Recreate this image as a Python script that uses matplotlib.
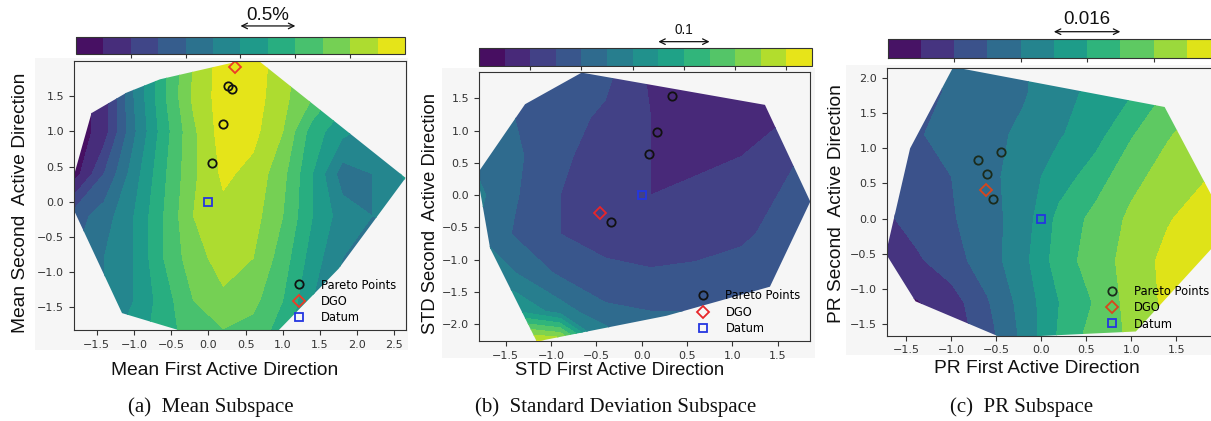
import numpy as np
import matplotlib
matplotlib.use("Agg")
import matplotlib.pyplot as plt
from matplotlib.patches import Polygon, Rectangle
from matplotlib.transforms import blended_transform_factory

# ---------------- data ----------------
# (a) Mean subspace: colour-band values read on a coarse grid
a_grid_x = [-1.8, -1.4, -1.0, -0.6, -0.2, 0.2, 0.6, 1.0, 1.4, 1.8, 2.2, 2.7]
a_grid_y = [-1.9, -1.4, -0.8, -0.2, 0.4, 1.0, 1.5, 2.0]
a_values = [
    [5.0, 5.5, 6.5, 7.5, 8.5, 8.8, 8.5, 7.5, 5.5, 4.0, 3.0, 3.0],
    [4.5, 5.0, 6.0, 7.5, 9.0, 9.8, 9.3, 8.0, 6.0, 4.5, 3.5, 3.0],
    [4.0, 5.0, 6.0, 8.0, 9.6, 10.4, 10.0, 8.5, 6.5, 5.0, 4.0, 4.0],
    [3.5, 4.5, 6.0, 8.0, 10.0, 10.7, 10.4, 9.0, 7.0, 5.5, 5.0, 5.5],
    [0.5, 3.0, 5.5, 7.8, 9.8, 11.2, 10.7, 9.3, 7.0, 4.5, 5.0, 6.3],
    [0.3, 1.5, 4.8, 7.5, 9.8, 11.5, 11.3, 10.0, 7.5, 6.3, 5.5, 6.0],
    [0.3, 1.5, 5.0, 7.8, 10.2, 11.5, 11.5, 10.3, 9.0, 7.5, 6.5, 6.0],
    [0.5, 2.0, 5.0, 7.8, 10.0, 11.5, 11.5, 10.5, 9.0, 8.0, 7.0, 6.5],
]
a_hull_x = [-1.81, -1.81, -1.57, -1.10, -0.65, 0.34, 0.62, 2.65, 1.75, 0.92, -0.31, -1.16]
a_hull_y = [-0.11, 0.36, 1.26, 1.55, 1.74, 1.98, 2.05, 0.34, -0.95, -1.85, -1.85, -1.58]
a_pareto_x = [0.27, 0.32, 0.20, 0.05]
a_pareto_y = [1.65, 1.60, 1.11, 0.55]
a_dgo = (0.36, 1.92)
a_datum = (0.0, 0.0)

# (b) STD subspace
b_grid_x = [-1.9, -1.4, -0.9, -0.4, 0.1, 0.6, 1.1, 1.5, 1.9]
b_grid_y = [-2.3, -1.8, -1.2, -0.6, 0.0, 0.6, 1.2, 1.9]
b_values = [
    [12.8, 12.8, 12.3, 6.0, 4.5, 4.5, 4.0, 4.0, 4.0],
    [8.0, 7.0, 5.5, 4.2, 4.0, 4.0, 4.0, 4.0, 4.0],
    [6.0, 5.0, 3.8, 3.3, 3.1, 3.2, 3.4, 3.7, 3.8],
    [5.2, 3.9, 3.0, 2.5, 2.3, 2.5, 2.8, 3.3, 3.5],
    [5.5, 4.1, 3.0, 2.3, 2.0, 2.1, 2.5, 3.0, 3.5],
    [5.0, 4.2, 3.2, 2.5, 2.0, 1.9, 2.0, 2.7, 3.2],
    [4.5, 4.0, 3.4, 2.8, 2.0, 1.6, 1.5, 1.8, 2.5],
    [4.5, 4.2, 3.8, 3.3, 1.8, 1.5, 1.5, 2.0, 2.5],
]
b_hull_x = [-1.80, -1.287, -0.662, 1.36, 1.86, 1.415, 0.276, -1.158, -1.673, -1.80]
b_hull_y = [0.36, 1.41, 1.90, 1.40, -0.10, -1.42, -1.87, -2.27, -0.82, 0.20]
b_pareto_x = [0.334, 0.165, 0.085, -0.34]
b_pareto_y = [1.53, 0.98, 0.64, -0.41]
b_dgo = (-0.46, -0.28)
b_datum = (0.0, 0.0)

# (c) PR subspace
c_grid_x = [-1.8, -1.4, -1.0, -0.6, -0.2, 0.2, 0.6, 1.0, 1.4, 1.8, 2.2]
c_grid_y = [-1.8, -1.2, -0.6, 0.0, 0.6, 1.2, 1.8, 2.3]
c_values = [
    [0.8, 0.8, 1.3, 2.5, 4.2, 6.2, 7.6, 8.1, 8.7, 9.2, 9.4],
    [1.0, 0.9, 1.5, 2.9, 4.4, 6.0, 7.1, 8.4, 9.2, 9.5, 9.5],
    [1.3, 1.8, 2.6, 3.5, 4.7, 6.5, 7.5, 8.4, 9.3, 9.6, 9.6],
    [1.7, 2.4, 2.9, 3.6, 4.5, 6.3, 7.3, 8.2, 8.9, 9.5, 9.6],
    [1.8, 2.4, 3.0, 3.7, 4.5, 5.5, 6.5, 7.7, 8.4, 8.9, 9.3],
    [1.6, 2.9, 3.3, 3.7, 4.2, 4.9, 5.6, 6.9, 7.9, 8.5, 8.8],
    [1.8, 2.4, 3.2, 3.6, 3.9, 4.6, 5.3, 5.9, 7.1, 7.8, 8.5],
    [1.8, 2.5, 3.3, 3.6, 3.9, 4.5, 5.2, 5.8, 7.0, 7.7, 8.4],
]
c_hull_x = [-1.73, -1.46, -0.98, 1.37, 2.09, 1.05, -0.44, -1.40]
c_hull_y = [-0.50, 1.00, 2.16, 1.59, -0.15, -1.61, -1.70, -1.18]
c_pareto_x = [-0.70, -0.45, -0.60, -0.54]
c_pareto_y = [0.84, 0.95, 0.64, 0.28]
c_dgo = (-0.62, 0.40)
c_datum = (0.0, 0.0)

legend_labels = ["Pareto Points", "DGO", "Datum"]

# ---------------- figure ----------------
W, H = 1211, 421
fig = plt.figure(figsize=(W / 100, H / 100), dpi=100)
BG = "#f6f6f6"


def fr(l, t, r, b):
    """pixel box -> figure fraction [left, bottom, width, height]"""
    return [l / W, 1 - b / H, (r - l) / W, (b - t) / H]


panels = [
    dict(gx=a_grid_x, gy=a_grid_y, z=a_values, nlev=12,
         hx=a_hull_x, hy=a_hull_y, px=a_pareto_x, py=a_pareto_y,
         dgo=a_dgo, datum=a_datum,
         ax=(74, 61, 405.6, 330), cb=(76, 37, 405, 54), bg=(35, 58, 408, 350),
         xlim=(-1.805, 2.65), ylim=(-1.82, 2.0),
         xt=np.arange(-1.5, 2.51, 0.5), yt=np.arange(-1.5, 1.51, 0.5),
         xlabel="Mean First Active Direction", ylabel="Mean Second  Active Direction",
         xlc=(0.455, -0.149), ylc=(-0.16, 0.472), lfs=13.8,
         arrow=(6, 8), ay=1.65, ty=2.25, atext="0.5%", afs=13.5,
         leg=(0.612, 0.106), dgoc="#ee3a26", parc="#111111",
         cap="(a)  Mean Subspace", capx=210.7),
    dict(gx=b_grid_x, gy=b_grid_y, z=b_values, nlev=13,
         hx=b_hull_x, hy=b_hull_y, px=b_pareto_x, py=b_pareto_y,
         dgo=b_dgo, datum=b_datum,
         ax=(479, 72.3, 810, 341), cb=(479, 47.7, 812, 66), bg=(442, 68, 815, 358),
         xlim=(-1.795, 1.857), ylim=(-2.262, 1.905),
         xt=np.arange(-1.5, 1.51, 0.5), yt=np.arange(-2.0, 1.51, 0.5),
         xlabel="STD First Active Direction", ylabel="STD Second  Active Direction",
         xlc=(0.426, -0.108), ylc=(-0.148, 0.476), lfs=13.2,
         arrow=(7, 9), ay=1.33, ty=1.95, atext="0.1", afs=9.8,
         leg=(0.612, 0.107), dgoc="#e8262a", parc="#111111",
         cap="(b)  Standard Deviation Subspace", capx=615.8),
    dict(gx=c_grid_x, gy=c_grid_y, z=c_values, nlev=10,
         hx=c_hull_x, hy=c_hull_y, px=c_pareto_x, py=c_pareto_y,
         dgo=c_dgo, datum=c_datum,
         ax=(886.7, 67.7, 1215, 335.7), cb=(887.7, 39.3, 1220, 58.3), bg=(846, 65, 1215, 355),
         xlim=(-1.72, 1.93), ylim=(-1.67, 2.15),
         xt=np.arange(-1.5, 1.51, 0.5), yt=np.arange(-1.5, 2.01, 0.5),
         xlabel="PR First Active Direction", ylabel="PR Second  Active Direction",
         xlc=(0.457, -0.122), ylc=(-0.152, 0.494), lfs=13.8,
         arrow=(5, 7), ay=1.4, ty=2.05, atext="0.016", afs=13.5,
         leg=(0.619, 0.105), dgoc="#d8461c", parc="#1b2b1b",
         cap="(c)  PR Subspace", capx=1021.7),
]

for p in panels:
    # light grey screenshot background
    l, t, r, b = p["bg"]
    fig.add_artist(Rectangle((l / W, 1 - b / H), (r - l) / W, (b - t) / H,
                             transform=fig.transFigure, facecolor=BG,
                             edgecolor="none", zorder=-5))
    ax = fig.add_axes(fr(*p["ax"]))
    ax.set_facecolor(BG)
    levels = np.arange(p["nlev"] + 1)
    X, Y = np.meshgrid(p["gx"], p["gy"])
    cs = ax.contourf(X, Y, np.array(p["z"]), levels=levels, cmap="viridis",
                     extend="neither")
    hull = Polygon(np.column_stack([p["hx"], p["hy"]]), closed=True,
                   transform=ax.transData, facecolor="none", edgecolor="none")
    ax.add_patch(hull)
    cs.set_clip_path(hull)

    h1, = ax.plot(p["px"], p["py"], "o", mfc="none", mec=p["parc"], ms=6, mew=1.3,
                  linestyle="none")
    h2, = ax.plot([p["dgo"][0]], [p["dgo"][1]], "D", mfc="none", mec=p["dgoc"],
                  ms=6, mew=1.3, linestyle="none")
    h3, = ax.plot([p["datum"][0]], [p["datum"][1]], "s", mfc="none", mec="#2436e0",
                  ms=5.8, mew=1.3, linestyle="none")

    ax.set_xlim(*p["xlim"])
    ax.set_ylim(*p["ylim"])
    ax.set_xticks(p["xt"])
    ax.set_yticks(p["yt"])
    ax.tick_params(labelsize=8, colors="#333333", length=3.5, width=0.8)
    for s in ax.spines.values():
        s.set_color("#333333")
        s.set_linewidth(0.8)

    ax.set_xlabel(p["xlabel"], family="Liberation Sans", fontsize=p["lfs"],
                  va="center", color="#111111")
    ax.set_ylabel(p["ylabel"], family="Liberation Sans", fontsize=p["lfs"],
                  va="center", color="#111111")
    ax.xaxis.set_label_coords(*p["xlc"])
    ax.yaxis.set_label_coords(*p["ylc"])

    ax.legend([h1, h2, h3], legend_labels, loc="center left",
              bbox_to_anchor=p["leg"], frameon=False, fontsize=8.3,
              handlelength=2.0, handletextpad=0.9, labelspacing=0.3,
              borderpad=0.4)

    # colorbar on top
    cax = fig.add_axes(fr(*p["cb"]))
    cb = fig.colorbar(cs, cax=cax, orientation="horizontal")
    cb.set_ticks(levels[2:-1:2])
    cax.set_xticklabels([])
    cax.tick_params(length=3, width=0.8, colors="#333333")
    cb.outline.set_linewidth(0.8)
    cb.outline.set_edgecolor("#333333")

    trans = blended_transform_factory(cax.transData, cax.transAxes)
    x0, x1 = p["arrow"]
    cax.annotate("", xy=(x1, p["ay"]), xytext=(x0, p["ay"]), xycoords=trans,
                 textcoords=trans, annotation_clip=False,
                 arrowprops=dict(arrowstyle="<->", lw=0.9, color="#111111",
                                 shrinkA=0, shrinkB=0))
    cax.text((x0 + x1) / 2, p["ty"], p["atext"], transform=trans, ha="center",
             va="center", fontsize=p["afs"], family="Liberation Sans",
             color="#111111", clip_on=False)

    fig.text(p["capx"] / W, 1 - 407 / H, p["cap"], ha="center", va="center",
             fontsize=15, family="Liberation Serif", color="#111111")

fig.savefig("out.png", dpi=100, facecolor="white")
